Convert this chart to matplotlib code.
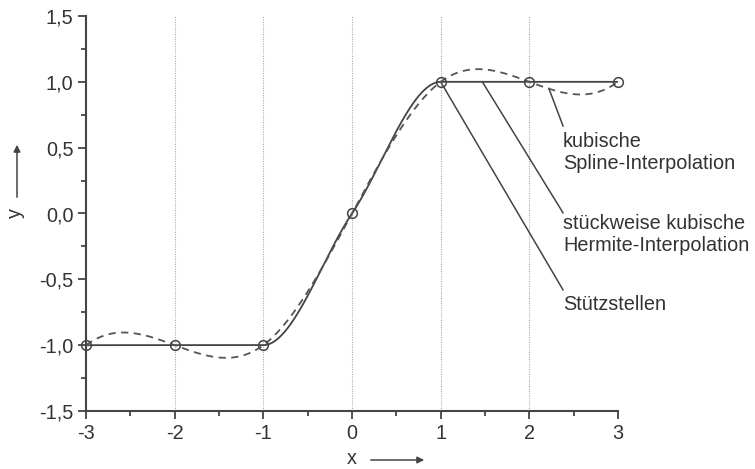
import numpy as np
import matplotlib
matplotlib.use("Agg")
import matplotlib.pyplot as plt
from matplotlib.ticker import MultipleLocator, FuncFormatter

# Stützstellen
x_pts = [-3, -2, -1, 0, 1, 2, 3]
y_pts = [-1, -1, -1, 0, 1, 1, 1]

labels_spline = "kubische\nSpline-Interpolation"
labels_hermite = "stückweise kubische\nHermite-Interpolation"
labels_pts = "Stützstellen"

grid_x = [-2, -1, 0, 1, 2]

plt.rcParams['font.family'] = ['Liberation Sans', 'DejaVu Sans']
TXT = "#333333"
LN = "#444444"
FS = 14.3


def spline_not_a_knot(x, y, xx):
    x = np.asarray(x, float)
    y = np.asarray(y, float)
    n = len(x) - 1
    A = np.zeros((4 * n, 4 * n))
    b = np.zeros(4 * n)
    r = 0
    # piece i: a + b t + c t^2 + d t^3, t = x - x_i
    for i in range(n):
        h = x[i + 1] - x[i]
        A[r, 4 * i] = 1
        b[r] = y[i]
        r += 1
        A[r, 4 * i:4 * i + 4] = [1, h, h ** 2, h ** 3]
        b[r] = y[i + 1]
        r += 1
    for i in range(n - 1):
        h = x[i + 1] - x[i]
        A[r, 4 * i:4 * i + 4] = [0, 1, 2 * h, 3 * h ** 2]
        A[r, 4 * (i + 1) + 1] = -1
        r += 1
        A[r, 4 * i:4 * i + 4] = [0, 0, 2, 6 * h]
        A[r, 4 * (i + 1) + 2] = -2
        r += 1
    # not-a-knot
    A[r, 3] = 1
    A[r, 7] = -1
    r += 1
    A[r, 4 * (n - 2) + 3] = 1
    A[r, 4 * (n - 1) + 3] = -1
    coef = np.linalg.solve(A, b).reshape(n, 4)
    idx = np.clip(np.searchsorted(x, xx) - 1, 0, n - 1)
    t = xx - x[idx]
    c = coef[idx]
    return c[:, 0] + c[:, 1] * t + c[:, 2] * t ** 2 + c[:, 3] * t ** 3


def pchip(x, y, xx):
    x = np.asarray(x, float)
    y = np.asarray(y, float)
    h = np.diff(x)
    delta = np.diff(y) / h
    n = len(x)
    d = np.zeros(n)
    for k in range(1, n - 1):
        if delta[k - 1] * delta[k] > 0:
            w1 = 2 * h[k] + h[k - 1]
            w2 = h[k] + 2 * h[k - 1]
            d[k] = (w1 + w2) / (w1 / delta[k - 1] + w2 / delta[k])
    for k, (h0, h1, d0, d1) in [(0, (h[0], h[1], delta[0], delta[1])),
                                (n - 1, (h[-1], h[-2], delta[-1], delta[-2]))]:
        v = ((2 * h0 + h1) * d0 - h0 * d1) / (h0 + h1)
        if np.sign(v) != np.sign(d0):
            v = 0
        elif np.sign(d0) != np.sign(d1) and abs(v) > abs(3 * d0):
            v = 3 * d0
        d[k] = v
    idx = np.clip(np.searchsorted(x, xx) - 1, 0, n - 2)
    t = (xx - x[idx]) / h[idx]
    h00 = 2 * t ** 3 - 3 * t ** 2 + 1
    h10 = t ** 3 - 2 * t ** 2 + t
    h01 = -2 * t ** 3 + 3 * t ** 2
    h11 = t ** 3 - t ** 2
    return h00 * y[idx] + h10 * h[idx] * d[idx] + h01 * y[idx + 1] + h11 * h[idx] * d[idx + 1]


xx = np.linspace(-3, 3, 601)
y_spline = spline_not_a_knot(x_pts, y_pts, xx)
y_herm = pchip(x_pts, y_pts, xx)

fig = plt.figure(figsize=(7.55, 4.69), dpi=100)
ax = fig.add_axes([86 / 755, 1 - 411 / 469, 532 / 755, 395 / 469])

for gx in grid_x:
    ax.plot([gx, gx], [-1.5, 1.5], color="#aaaaaa", lw=0.8, ls=(0, (1, 1.2)), zorder=1)

ax.plot(xx, y_herm, color=LN, lw=1.3, zorder=3)
ax.plot(xx, y_spline, color="#555555", lw=1.3, ls=(0, (4, 3)), zorder=3)
ax.plot(x_pts, y_pts, "o", ms=7, mfc="none", mec=LN, mew=1.1, zorder=4, clip_on=False)

# Beschriftungslinien
ax.plot([2.22, 2.38], [0.95, 0.665], color=LN, lw=1.1, clip_on=False)
ax.plot([1.47, 2.38], [1.0, 0.005], color=LN, lw=1.1, clip_on=False)
ax.plot([1.0, 2.38], [1.0, -0.58], color=LN, lw=1.1, clip_on=False)

ax.text(2.38, 0.4635, labels_spline, fontsize=FS, color=TXT, va="center", ha="left", linespacing=1.25)
ax.text(2.38, -0.159, labels_hermite, fontsize=FS, color=TXT, va="center", ha="left", linespacing=1.25)
ax.text(2.38, -0.694, labels_pts, fontsize=FS, color=TXT, va="center", ha="left")

ax.set_xlim(-3, 3)
ax.set_ylim(-1.5, 1.5)
ax.spines["top"].set_visible(False)
ax.spines["right"].set_visible(False)
for s in ["left", "bottom"]:
    ax.spines[s].set_linewidth(1.5)
    ax.spines[s].set_color(LN)

ax.xaxis.set_major_locator(MultipleLocator(1))
ax.xaxis.set_minor_locator(MultipleLocator(0.5))
ax.yaxis.set_major_locator(MultipleLocator(0.5))
ax.yaxis.set_minor_locator(MultipleLocator(0.25))
ax.xaxis.set_major_formatter(FuncFormatter(lambda v, p: "%d" % round(v)))
ax.yaxis.set_major_formatter(FuncFormatter(lambda v, p: ("%.1f" % v).replace(".", ",")))
ax.tick_params(which="major", direction="out", length=6, width=1.3, color=LN,
               labelsize=FS, labelcolor=TXT, pad=3)
ax.tick_params(which="minor", direction="out", length=3.5, width=1.3, color=LN)

# Achsenbeschriftungen mit Pfeilen
fig.text(352 / 755, 1 - 458 / 469, "x", fontsize=FS, color=TXT, ha="center", va="center")
fig.text(15 / 755, 1 - 213 / 469, "y", fontsize=FS, color=TXT, ha="center", va="center", rotation=90)
ax.annotate("", xy=(427 / 755, 1 - 460 / 469), xytext=(368 / 755, 1 - 460 / 469),
            xycoords="figure fraction", textcoords="figure fraction",
            arrowprops=dict(arrowstyle="-|>", color=LN, lw=1.1, mutation_scale=10))
ax.annotate("", xy=(17 / 755, 1 - 142 / 469), xytext=(17 / 755, 1 - 200 / 469),
            xycoords="figure fraction", textcoords="figure fraction",
            arrowprops=dict(arrowstyle="-|>", color=LN, lw=1.1, mutation_scale=10))

fig.savefig("out.png", dpi=100)
